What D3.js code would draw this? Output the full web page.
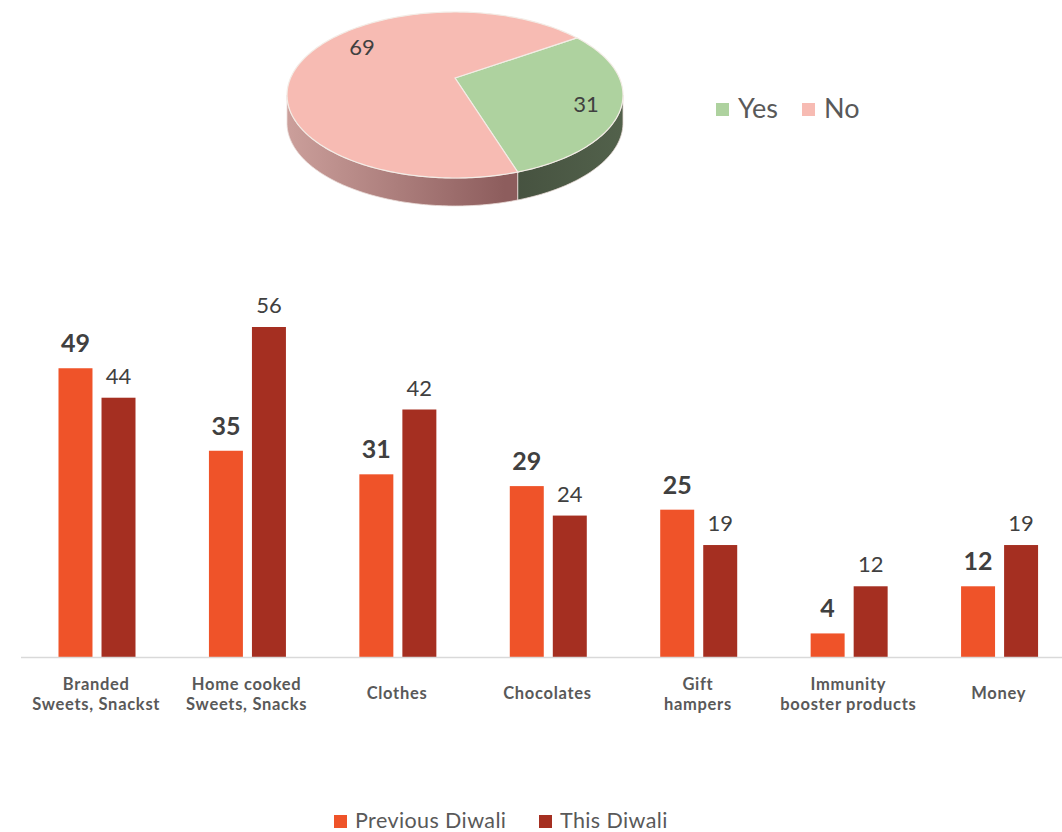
<!DOCTYPE html>
<html>
<head>
<meta charset="utf-8">
<script src="https://cdn.jsdelivr.net/npm/d3@7"></script>
<style>
  body { margin: 0; background: #fff; }
  svg { display: block; font-family: Lato, "Open Sans", sans-serif; }
</style>
</head>
<body>
<div id="chart"></div>
<script>
'use strict'
/* Datos del pastel */
var pieLabels = ['Yes', 'No'];
var pieValues = [31, 69];
var pieColors = ['#aed29f', '#f7bbb3'];

/* Datos de las barras */
var categories = ['Branded Sweets, Snackst', 'Home cooked Sweets, Snacks', 'Clothes', 'Chocolates', 'Gift hampers', 'Immunity booster products', 'Money'];
var catLines = [['Branded', 'Sweets, Snackst'], ['Home cooked', 'Sweets, Snacks'], ['Clothes'], ['Chocolates'], ['Gift', 'hampers'], ['Immunity', 'booster products'], ['Money']];
var seriesNames = ['Previous Diwali', 'This Diwali'];
var prevValues = [49, 35, 31, 29, 25, 4, 12];
var thisValues = [44, 56, 42, 24, 19, 12, 19];
var barColors = ['#ef5329', '#a52f21'];

var W = 1062, H = 832;

var svg = d3.select('#chart').append('svg')
  .attr('width', W).attr('height', H);
svg.append('rect').attr('width', W).attr('height', H).attr('fill', '#fff');

var defs = svg.append('defs');
var gp = defs.append('linearGradient').attr('id', 'sidePink')
  .attr('gradientUnits', 'userSpaceOnUse')
  .attr('x1', 287).attr('x2', 505).attr('y1', 0).attr('y2', 0);
gp.append('stop').attr('offset', '0%').attr('stop-color', '#cb9f9b');
gp.append('stop').attr('offset', '100%').attr('stop-color', '#8d5d5d');
var gg = defs.append('linearGradient').attr('id', 'sideGreen')
  .attr('gradientUnits', 'userSpaceOnUse')
  .attr('x1', 505).attr('x2', 622).attr('y1', 0).attr('y2', 0);
gg.append('stop').attr('offset', '0%').attr('stop-color', '#45513f');
gg.append('stop').attr('offset', '100%').attr('stop-color', '#52614b');
var sideFills = ['url(#sideGreen)', 'url(#sidePink)'];

/* ---------- Pastel 3D ---------- */
var cx = 455, cy = 95, rx = 168, ry = 83, depth = 28;
var vx = 455, vy = 78;

function pt(a, dy) {
  return [cx + rx * Math.sin(a), cy - ry * Math.cos(a) + (dy || 0)];
}
function arcPts(a0, a1, dy) {
  var n = Math.max(2, Math.ceil(Math.abs(a1 - a0) / 0.02));
  return d3.range(n + 1).map(function(i) { return pt(a0 + (a1 - a0) * i / n, dy); });
}

var pie = d3.pie().sort(null)
  .startAngle(46.5 * Math.PI / 180)
  .endAngle(46.5 * Math.PI / 180 + 2 * Math.PI);
var arcs = pie(pieValues);

var line = d3.line();
var gPie = svg.append('g');

// paredes laterales (mitad frontal)
arcs.forEach(function(d, i) {
  [0, 2 * Math.PI].forEach(function(off) {
    var lo = Math.max(d.startAngle, Math.PI / 2 + off);
    var hi = Math.min(d.endAngle, 3 * Math.PI / 2 + off);
    if (hi <= lo) return;
    var top = arcPts(lo, hi, 0);
    var bot = arcPts(hi, lo, depth);
    gPie.append('path')
      .attr('d', line(top.concat(bot)) + 'Z')
      .attr('fill', sideFills[i])
      .attr('stroke', '#eadcd8').attr('stroke-width', 0.8);
  });
});

// caras superiores
arcs.forEach(function(d, i) {
  var pts = [[vx, vy]].concat(arcPts(d.startAngle, d.endAngle, 0));
  gPie.append('path')
    .attr('d', line(pts) + 'Z')
    .attr('fill', pieColors[i])
    .attr('stroke', '#f3ece6').attr('stroke-width', 1.2);
});

// etiquetas del pastel
var pieLabelPos = [[586, 112], [362, 55]];
gPie.selectAll('text.pl')
  .data(arcs).enter().append('text')
  .attr('class', 'pl')
  .attr('x', function(d, i) { return pieLabelPos[i][0]; })
  .attr('y', function(d, i) { return pieLabelPos[i][1]; })
  .attr('text-anchor', 'middle')
  .attr('font-size', 22).attr('fill', '#404040')
  .text(function(d) { return d.data; });

// leyenda del pastel
var legPie = svg.append('g');
var legPieX = [716, 802];
pieLabels.forEach(function(l, i) {
  legPie.append('rect').attr('x', legPieX[i]).attr('y', 103)
    .attr('width', 13).attr('height', 13).attr('fill', pieColors[i]);
  legPie.append('text').attr('x', legPieX[i] + 22).attr('y', 118)
    .attr('font-size', 27).attr('fill', '#595959').text(l);
});

/* ---------- Barras ---------- */
var x0 = d3.scaleBand().domain(categories).range([21, 1074]);
var x1 = d3.scaleBand().domain(seriesNames).range([37.5, 114.5]).paddingInner(0.21);
var y = d3.scaleLinear().domain([0, 56]).range([657, 327]);

var gBars = svg.append('g');
var groups = gBars.selectAll('g.grp')
  .data(categories.map(function(c, i) { return { cat: c, vals: [prevValues[i], thisValues[i]] }; }))
  .enter().append('g')
  .attr('class', 'grp')
  .attr('transform', function(d) { return 'translate(' + x0(d.cat) + ',0)'; });

groups.selectAll('rect')
  .data(function(d) { return d.vals.map(function(v, j) { return { s: seriesNames[j], v: v, j: j }; }); })
  .enter().append('rect')
  .attr('x', function(d) { return x1(d.s); })
  .attr('y', function(d) { return y(d.v); })
  .attr('width', x1.bandwidth())
  .attr('height', function(d) { return y(0) - y(d.v); })
  .attr('fill', function(d) { return barColors[d.j]; });

groups.selectAll('text.val')
  .data(function(d) { return d.vals.map(function(v, j) { return { s: seriesNames[j], v: v, j: j }; }); })
  .enter().append('text')
  .attr('class', 'val')
  .attr('x', function(d) { return x1(d.s) + x1.bandwidth() / 2; })
  .attr('y', function(d) { return y(d.v) - (d.j === 0 ? 16 : 14); })
  .attr('text-anchor', 'middle')
  .attr('font-size', function(d) { return d.j === 0 ? 25 : 22; })
  .attr('font-weight', function(d) { return d.j === 0 ? 'bold' : 'normal'; })
  .attr('fill', '#404040')
  .text(function(d) { return d.v; });

// eje
svg.append('line')
  .attr('x1', 21).attr('x2', W).attr('y1', y(0) + 0.5).attr('y2', y(0) + 0.5)
  .attr('stroke', '#d9d9d9').attr('stroke-width', 1.5);

// etiquetas de categoría (una línea de texto por renglón)
categories.forEach(function(c, i) {
  var lines = catLines[i];
  var y0 = lines.length === 2 ? 690 : 699;
  lines.forEach(function(l, k) {
    svg.append('text')
      .attr('x', x0(c) + x0.bandwidth() / 2)
      .attr('y', y0 + k * 20)
      .attr('text-anchor', 'middle')
      .attr('font-size', 16.5).attr('letter-spacing', 0.7)
      .attr('font-weight', 'bold').attr('fill', '#595959')
      .text(l);
  });
});

// leyenda de barras
var legBarX = [334, 539];
seriesNames.forEach(function(s, i) {
  svg.append('rect').attr('x', legBarX[i]).attr('y', 815)
    .attr('width', 13).attr('height', 13).attr('fill', barColors[i]);
  svg.append('text').attr('x', legBarX[i] + 21).attr('y', 828)
    .attr('font-size', 21.5).attr('letter-spacing', 0.4)
    .attr('fill', '#595959').text(s);
});
</script>
</body>
</html>
